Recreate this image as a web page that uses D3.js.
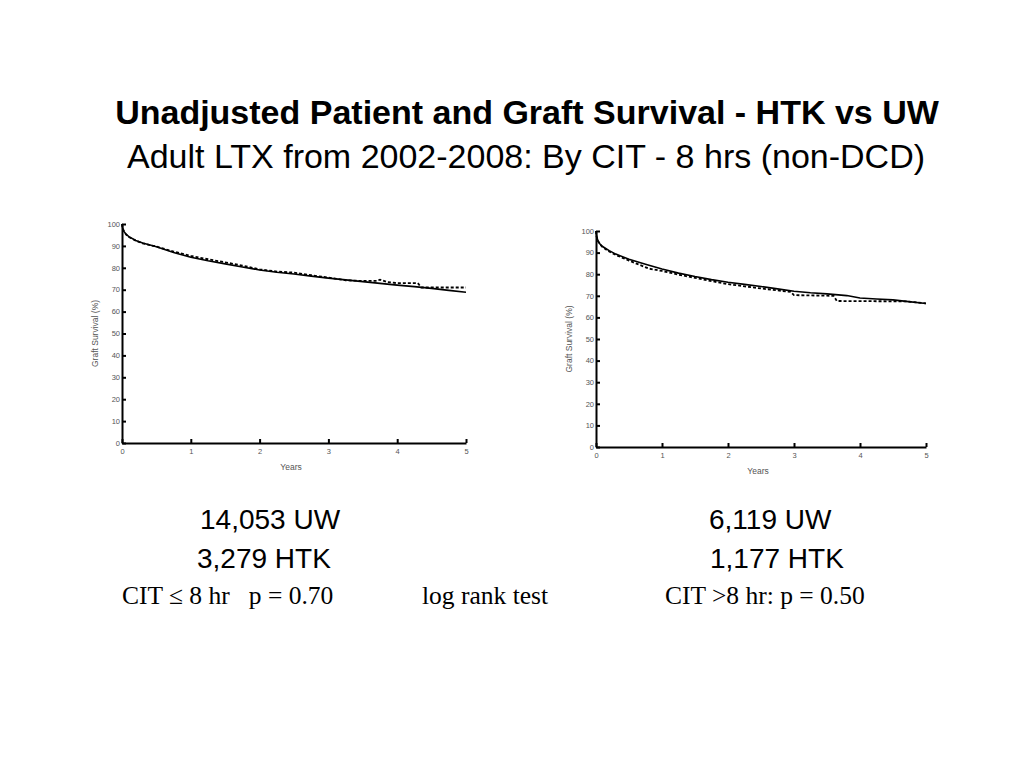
<!DOCTYPE html>
<html>
<head>
<meta charset="utf-8">
<script src="https://cdn.jsdelivr.net/npm/d3@7/dist/d3.min.js"></script>
<style>
  html, body { margin: 0; padding: 0; background: #fff; }
  svg { display: block; }
</style>
</head>
<body>
<svg id="chart" width="1024" height="768"></svg>
<script>
// ---- Data ----
const yTicks = [0, 10, 20, 30, 40, 50, 60, 70, 80, 90, 100];
const xTicks = [0, 1, 2, 3, 4, 5];

// CIT <= 8 hr
const leftUWYears = [0, 0.01, 0.03, 0.06, 0.1, 0.2, 0.3, 0.5, 0.75, 1, 1.25, 1.5, 1.75, 2, 2.25, 2.5, 2.75, 3, 3.25, 3.5, 3.75, 4, 4.25, 4.5, 4.75, 5];
const leftUWSurv  = [100, 98, 96.5, 95.3, 94.2, 92.5, 91.3, 89.6, 87.0, 84.8, 83.2, 81.8, 80.4, 79.0, 78.0, 77.2, 76.2, 75.3, 74.5, 73.7, 72.9, 72.1, 71.4, 70.6, 69.7, 68.8];
const leftHTKYears = [0, 0.01, 0.03, 0.06, 0.1, 0.2, 0.3, 0.5, 0.75, 1, 1.25, 1.5, 1.75, 2, 2.25, 2.5, 2.75, 3, 3.25, 3.5, 3.7, 3.75, 3.85, 4, 4.3, 4.35, 5];
const leftHTKSurv  = [100, 98, 96.4, 95.2, 94.1, 92.4, 91.2, 89.7, 87.4, 85.4, 83.9, 82.5, 81.0, 79.3, 78.3, 77.8, 76.6, 75.5, 74.3, 74.0, 74.0, 74.6, 73.5, 73.0, 73.0, 71.0, 71.0];

// CIT > 8 hr
const rightUWYears = [0, 0.01, 0.03, 0.06, 0.1, 0.2, 0.3, 0.5, 0.75, 1, 1.25, 1.5, 1.75, 2, 2.25, 2.5, 2.75, 3, 3.25, 3.5, 3.8, 4, 4.25, 4.5, 4.7, 5];
const rightUWSurv  = [100, 97.5, 95.5, 94, 92.8, 90.9, 89.3, 86.9, 84.6, 82.4, 80.5, 78.9, 77.5, 76.3, 75.3, 74.3, 73.2, 72.1, 71.4, 70.9, 70.1, 69.0, 68.5, 68.1, 67.4, 66.4];
const rightHTKYears = [0, 0.01, 0.03, 0.06, 0.1, 0.2, 0.3, 0.5, 0.8, 1, 1.25, 1.5, 1.75, 2, 2.25, 2.5, 2.75, 2.95, 3.0, 3.6, 3.65, 4.7, 5];
const rightHTKSurv  = [100, 97.3, 95.3, 93.8, 92.5, 90.5, 88.9, 86.3, 82.6, 81.5, 79.8, 78.3, 76.8, 75.4, 74.4, 73.4, 72.5, 71.8, 70.3, 70.0, 67.6, 67.4, 66.5];

const titleText = "Unadjusted Patient and Graft Survival - HTK vs UW";
const subtitleText = "Adult LTX from 2002-2008: By CIT - 8 hrs (non-DCD)";
const yAxisTitle = "Graft Survival (%)";
const xAxisTitle = "Years";

// ---- Drawing ----
const sans = "Liberation Sans, Arial, sans-serif";
const serif = "Liberation Serif, Times New Roman, serif";
const svg = d3.select("#chart");
svg.append("rect").attr("width", 1024).attr("height", 768).attr("fill", "#fff");

svg.append("text").attr("x", 527).attr("y", 124).attr("text-anchor", "middle")
  .attr("font-family", sans).attr("font-weight", "bold")
  .attr("font-size", 34).attr("fill", "#000").text(titleText);
svg.append("text").attr("x", 526).attr("y", 168).attr("text-anchor", "middle")
  .attr("font-family", sans)
  .attr("font-size", 34).attr("fill", "#000").text(subtitleText);

function drawPanel(cfg) {
  const x = d3.scaleLinear().domain([0, 5]).range([cfg.x0, cfg.x1]);
  const y = d3.scaleLinear().domain([0, 100]).range([cfg.y0, cfg.y1]);
  const g = svg.append("g");

  const yAx = g.append("g").attr("transform", `translate(${cfg.x0},0)`)
    .call(d3.axisLeft(y).tickValues(yTicks).tickFormat(d3.format("d"))
      .tickSizeInner(-4).tickSizeOuter(0).tickPadding(2));
  const xAx = g.append("g").attr("transform", `translate(0,${cfg.y0})`)
    .call(d3.axisBottom(x).tickValues(xTicks).tickFormat(d3.format("d"))
      .tickSizeInner(-4).tickSizeOuter(0).tickPadding(5));
  [yAx, xAx].forEach(a => {
    a.select(".domain").attr("stroke", "#000").attr("stroke-width", 2);
    a.selectAll(".tick line").attr("stroke", "#000").attr("stroke-width", 2);
    a.selectAll(".tick text").attr("fill", "#555")
      .attr("font-family", sans).attr("font-size", 7.5);
  });
  yAx.selectAll(".tick text").attr("dy", "0.3em");
  xAx.selectAll(".tick text").attr("dy", "0.75em");

  g.append("text")
    .attr("transform", `translate(${cfg.x0 - 24},${(cfg.y0 + cfg.y1) / 2}) rotate(-90)`)
    .attr("text-anchor", "middle").attr("fill", "#555")
    .attr("font-family", sans).attr("font-size", 8.5)
    .text(yAxisTitle);
  g.append("text").attr("x", (cfg.x0 + cfg.x1) / 2 - 3).attr("y", cfg.y0 + 27)
    .attr("text-anchor", "middle").attr("fill", "#555")
    .attr("font-family", sans).attr("font-size", 8.5)
    .text(xAxisTitle);

  const line = d3.line().x(d => x(d[0])).y(d => y(d[1]));
  g.append("path").datum(d3.zip(cfg.htkX, cfg.htkY)).attr("d", line)
    .attr("fill", "none").attr("stroke", "#000").attr("stroke-width", 1.8)
    .attr("stroke-dasharray", "3,2");
  g.append("path").datum(d3.zip(cfg.uwX, cfg.uwY)).attr("d", line)
    .attr("fill", "none").attr("stroke", "#000").attr("stroke-width", 1.6);
}

drawPanel({ x0: 122, x1: 466, y0: 443, y1: 224,
  uwX: leftUWYears, uwY: leftUWSurv, htkX: leftHTKYears, htkY: leftHTKSurv });
drawPanel({ x0: 596, x1: 926, y0: 447, y1: 231,
  uwX: rightUWYears, uwY: rightUWSurv, htkX: rightHTKYears, htkY: rightHTKSurv });

// Counts and tests
[["14,053 UW", 200, 529], ["3,279 HTK", 197, 568], ["6,119 UW", 709, 529], ["1,177 HTK", 710, 568]]
  .forEach(([t, xx, yy]) => svg.append("text").attr("x", xx).attr("y", yy)
    .attr("font-family", sans).attr("font-size", 28).attr("fill", "#000").text(t));
[["CIT ≤ 8 hr   p = 0.70", 122], ["log rank test", 422], ["CIT >8 hr: p = 0.50", 665]]
  .forEach(([t, xx]) => svg.append("text").attr("x", xx).attr("y", 604)
    .attr("font-family", serif).attr("font-size", 25.5).attr("fill", "#000")
    .attr("xml:space", "preserve").style("white-space", "pre").text(t));
</script>
</body>
</html>
